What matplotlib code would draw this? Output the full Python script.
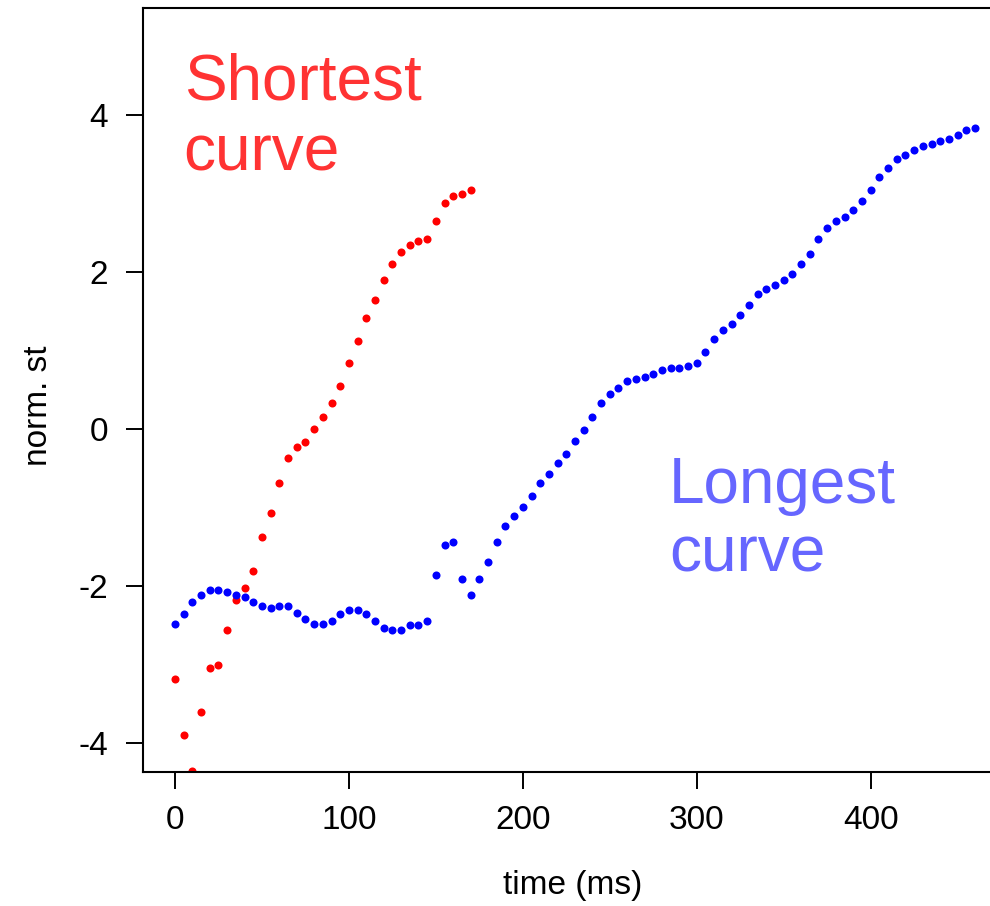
import numpy as np
import matplotlib
matplotlib.use("Agg")
import matplotlib.pyplot as plt

plt.rcParams['font.family'] = ['Liberation Sans', 'DejaVu Sans']

# normalised semitone tracks sampled every 5 ms
short_st = [-3.18, -3.90, -4.36, -3.60, -3.04, -3.01, -2.56, -2.18, -2.03, -1.81,
            -1.38, -1.07, -0.68, -0.37, -0.23, -0.16, 0.00, 0.16, 0.33, 0.55,
            0.84, 1.12, 1.42, 1.65, 1.90, 2.10, 2.26, 2.35, 2.40, 2.43,
            2.66, 2.88, 2.97, 3.00, 3.05]

long_st = [-2.48, -2.36, -2.20, -2.11, -2.05, -2.05, -2.08, -2.11, -2.14, -2.20,
           -2.25, -2.28, -2.25, -2.25, -2.34, -2.42, -2.48, -2.48, -2.45, -2.36,
           -2.31, -2.31, -2.36, -2.45, -2.53, -2.56, -2.56, -2.50, -2.50, -2.45,
           -1.86, -1.47, -1.44, -1.91, -2.11, -1.91, -1.69, -1.44, -1.24, -1.10,
           -0.99, -0.85, -0.68, -0.57, -0.43, -0.31, -0.15, -0.01, 0.16, 0.33,
           0.45, 0.53, 0.61, 0.64, 0.67, 0.70, 0.75, 0.78, 0.78, 0.81,
           0.84, 0.98, 1.15, 1.26, 1.34, 1.45, 1.59, 1.73, 1.79, 1.84,
           1.90, 1.98, 2.10, 2.24, 2.43, 2.57, 2.66, 2.71, 2.80, 2.91,
           3.05, 3.22, 3.33, 3.44, 3.50, 3.56, 3.61, 3.64, 3.67, 3.70,
           3.75, 3.81, 3.84]

step_ms = 5
short_t = np.arange(len(short_st)) * step_ms
long_t = np.arange(len(long_st)) * step_ms

xticks = [0, 100, 200, 300, 400]
yticks = [-4, -2, 0, 2, 4]

fig = plt.figure(figsize=(9.9, 9.06), dpi=100)
ax = fig.add_axes([143 / 990, 134 / 906, 864 / 990, 764 / 906])

ax.plot(short_t, short_st, 'o', color='#ff0000', markersize=5.8, markeredgewidth=0)
ax.plot(long_t, long_st, 'o', color='#0000ff', markersize=5.8, markeredgewidth=0)

ax.text(5.0, 4.20, 'Shortest', color='#ff3333', fontsize=46, va='baseline')
ax.text(5.0, 3.30, 'curve', color='#ff3333', fontsize=46, va='baseline')
ax.text(284.0, -0.94, 'Longest', color='#6666ff', fontsize=46, va='baseline')
ax.text(284.0, -1.82, 'curve', color='#6666ff', fontsize=46, va='baseline')

ax.set_xlim(-18.4, 478.4)
ax.set_ylim(-4.37, 5.37)
ax.set_xticks(xticks)
ax.set_yticks(yticks)
ax.set_xticklabels([str(v) for v in xticks])
ax.set_yticklabels([str(v) for v in yticks])
ax.tick_params(direction='out', length=12, width=1.4, labelsize=24, colors='black')
ax.tick_params(axis='x', pad=12)
ax.tick_params(axis='y', pad=13)
for s in ax.spines.values():
    s.set_linewidth(1.5)

ax.set_xlabel('time (ms)', fontsize=24)
ax.set_ylabel('norm. st', fontsize=24)
ax.xaxis.set_label_coords(0.497, -0.128)
ax.yaxis.set_label_coords(-0.103, 0.479)

fig.savefig('out.png', dpi=100)
